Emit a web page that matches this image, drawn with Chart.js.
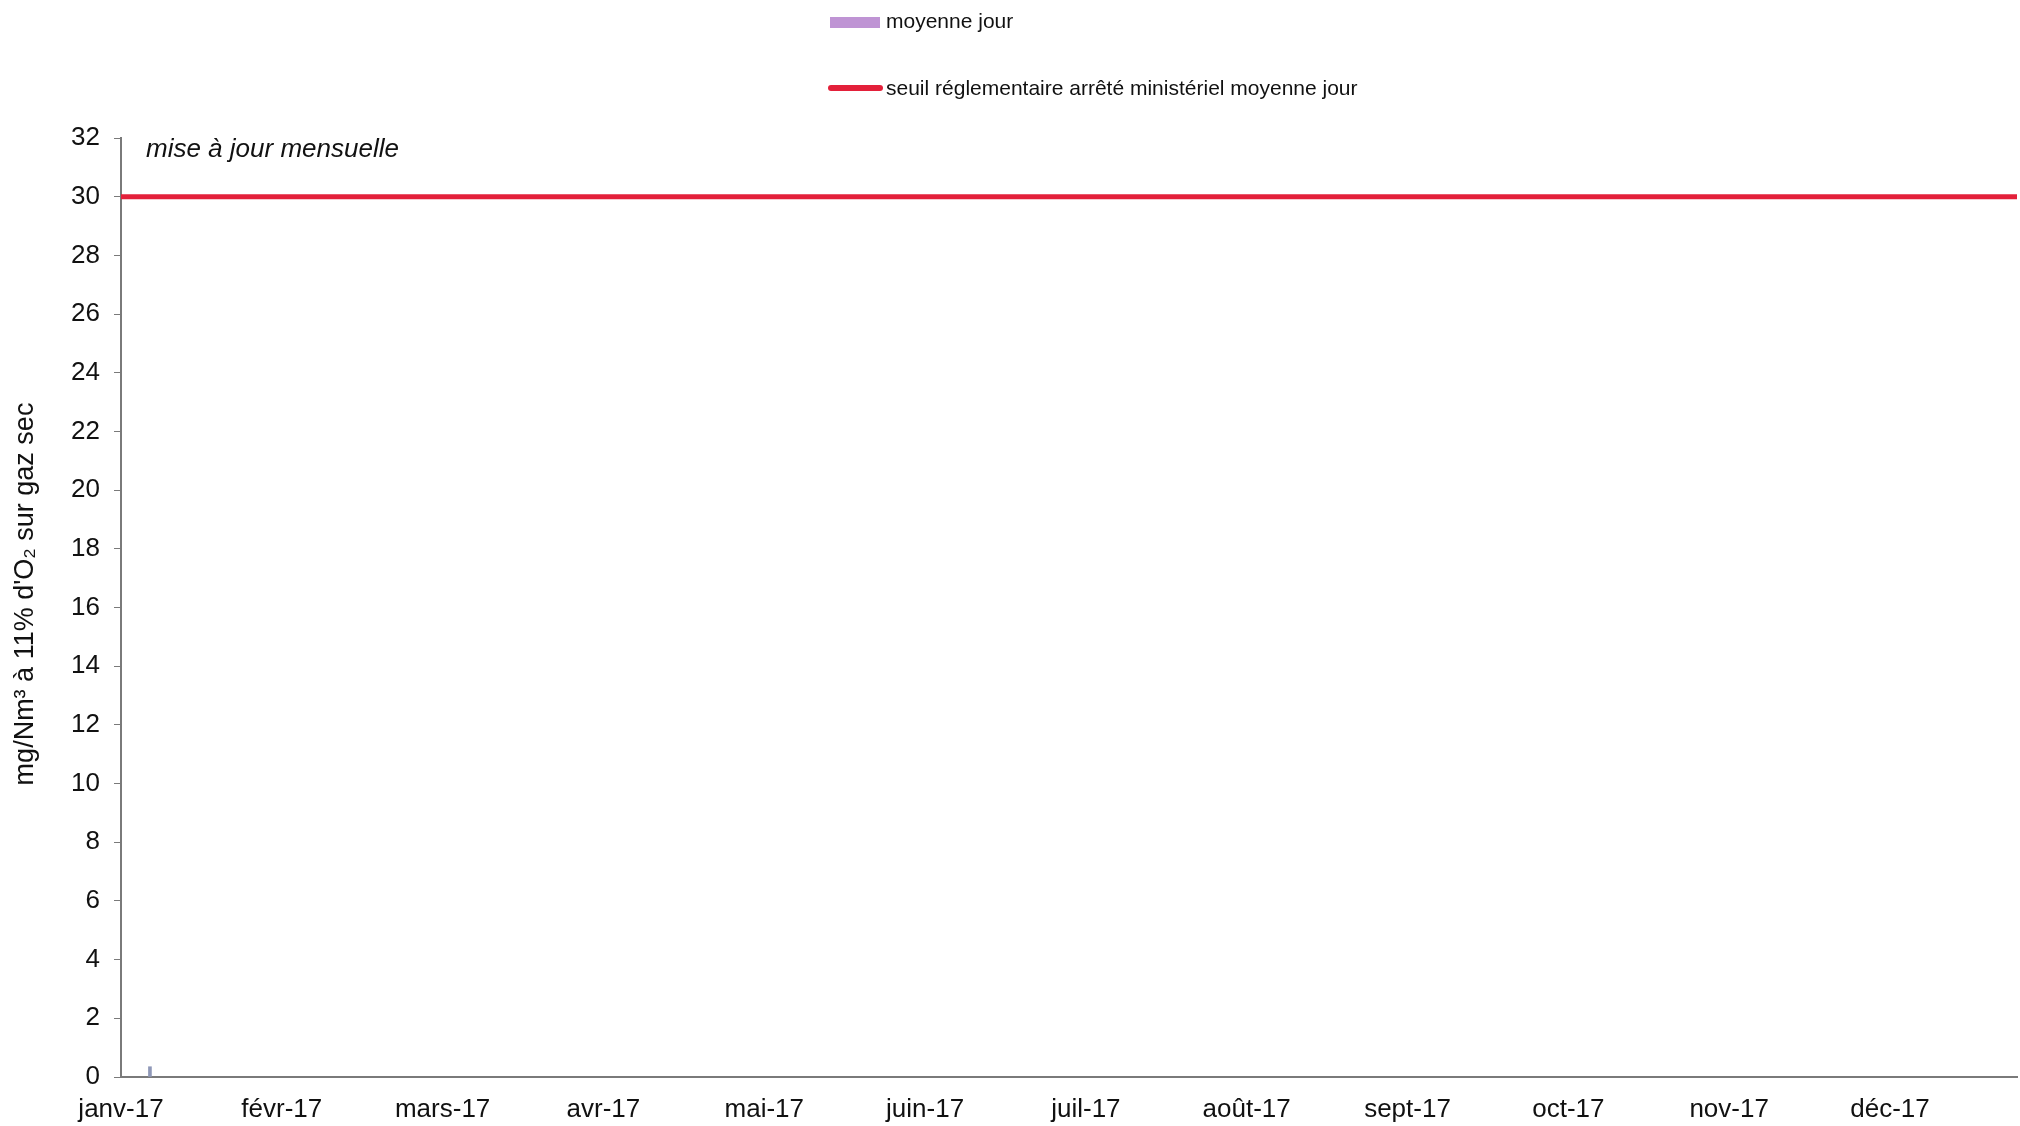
<!DOCTYPE html>
<html>
<head>
<meta charset="utf-8">
<script src="https://cdn.jsdelivr.net/npm/chart.js@4.4.0/dist/chart.umd.min.js"></script>
<style>
  html, body { margin: 0; padding: 0; background: #fff; }
  #wrap { width: 2020px; height: 1126px; position: relative; }
</style>
</head>
<body>
<div id="wrap"><canvas id="emissionChart" width="2020" height="1126"></canvas></div>
<script>
// month labels on the x axis (one per month index)
const months = ['janv-17', 'févr-17', 'mars-17', 'avr-17', 'mai-17', 'juin-17',
                'juil-17', 'août-17', 'sept-17', 'oct-17', 'nov-17', 'déc-17'];
const xEnd = 11.79;

// daily mean (almost nothing recorded)
const dailyX = [0.18];
const dailyY = [0.35];

// regulatory threshold, daily mean
const thresholdX = [0, xEnd];
const thresholdY = [30, 30];

const yTicks = [0, 2, 4, 6, 8, 10, 12, 14, 16, 18, 20, 22, 24, 26, 28, 30, 32];
const yTitle = 'mg/Nm³ à 11% d\'O₂ sur gaz sec';

const purple = '#bf94d4';
const red = '#e3203a';
const axisGrey = '#7a7a7a';
const fontFamily = '"Liberation Sans", Arial, sans-serif';

// legend stacked vertically, axis title, "mise à jour" note
const notesPlugin = {
    id: 'notes',
    afterDraw(chart) {
        const c = chart.ctx;
        const ds = chart.data.datasets;
        c.save();
        c.textBaseline = 'middle';
        c.textAlign = 'left';
        c.font = '21px ' + fontFamily;

        c.fillStyle = purple;
        c.fillRect(830, 17, 50, 11);
        c.fillStyle = '#111';
        c.fillText(ds[0].label, 886, 22);

        c.strokeStyle = red;
        c.lineWidth = 6;
        c.lineCap = 'round';
        c.beginPath();
        c.moveTo(831, 88);
        c.lineTo(880, 88);
        c.stroke();
        c.fillText(ds[1].label, 886, 89);

        c.font = 'italic 26px ' + fontFamily;
        c.fillText('mise à jour mensuelle', 146, 150);

        // y axis title
        c.translate(26, 594);
        c.rotate(-Math.PI / 2);
        c.textAlign = 'center';
        c.font = '27px ' + fontFamily;
        c.fillText(yTitle, 0, 0);
        c.restore();
    }
};

document.addEventListener('DOMContentLoaded', function () {
    const ctx = document.getElementById('emissionChart').getContext('2d');
    const emissionChart = new Chart(ctx, {
        type: 'bar',
        data: {
            datasets: [{
                type: 'bar',
                label: 'moyenne jour',
                data: dailyX.map((x, i) => ({ x: x, y: dailyY[i] })),
                backgroundColor: '#8f98b8',
                barThickness: 3,
                order: 2
            }, {
                type: 'line',
                label: 'seuil réglementaire arrêté ministériel moyenne jour',
                data: thresholdX.map((x, i) => ({ x: x, y: thresholdY[i] })),
                borderColor: red,
                borderWidth: 5,
                pointRadius: 0,
                fill: false,
                order: 1
            }]
        },
        options: {
            responsive: false,
            animation: false,
            devicePixelRatio: 1,
            layout: { padding: { left: 0, right: 3, top: 138, bottom: 0 } },
            scales: {
                x: {
                    type: 'linear',
                    offset: false,
                    min: 0,
                    max: xEnd,
                    grid: { display: true, drawOnChartArea: false, drawTicks: false },
                    border: { display: true, color: axisGrey, width: 2 },
                    ticks: {
                        stepSize: 1,
                        autoSkip: false,
                        includeBounds: false,
                        maxRotation: 0,
                        padding: 17,
                        color: '#111',
                        font: { family: fontFamily, size: 26 },
                        callback: v => months[v] ?? ''
                    },
                    afterFit: s => { s.height = 49; }
                },
                y: {
                    min: 0,
                    max: 32,
                    afterBuildTicks: s => { s.ticks = yTicks.map(v => ({ value: v })); },
                    grid: { display: true, drawOnChartArea: false, drawTicks: true, tickLength: 7, color: axisGrey },
                    border: { display: true, color: axisGrey, width: 2 },
                    ticks: {
                        padding: 14,
                        color: '#111',
                        font: { family: fontFamily, size: 26 }
                    },
                    afterFit: s => { s.width = 121; }
                }
            },
            plugins: {
                legend: { display: false },
                tooltip: { enabled: false }
            }
        },
        plugins: [notesPlugin]
    });
});
</script>
</body>
</html>
